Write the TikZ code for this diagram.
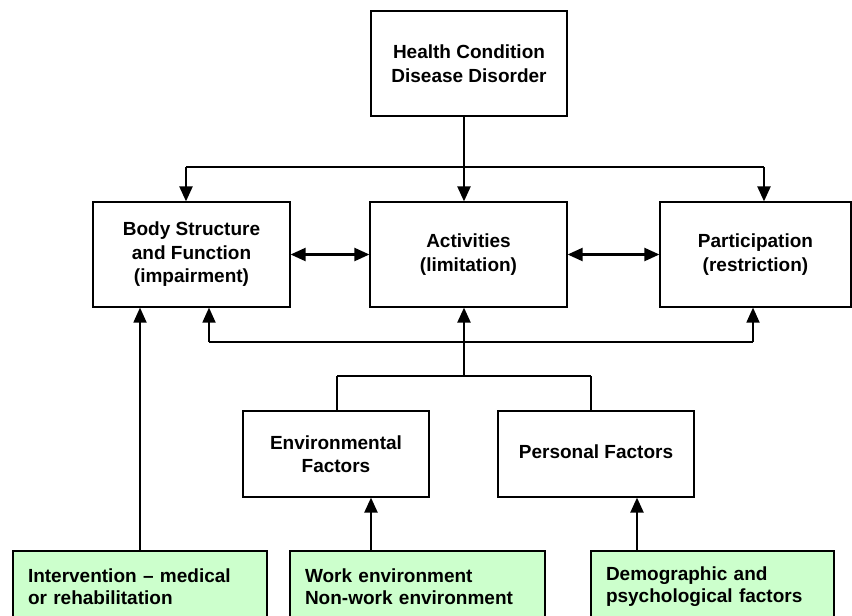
\documentclass[tikz,border=0pt]{standalone}
\usepackage{fontspec}
\setmainfont{Liberation Sans}
\usetikzlibrary{arrows.meta}
\begin{document}
\begin{tikzpicture}[x=1pt,y=-1pt,
  box/.style={draw=black, line width=1.2pt, fill=white, font=\bfseries\fontsize{19}{23.5}\selectfont, align=center, inner sep=0pt},
  gbox/.style={draw=black, line width=1.2pt, fill=green!20, font=\bfseries\fontsize{19}{22}\selectfont, align=left, inner xsep=15pt, inner ysep=0pt, minimum height=72pt},
  tip/.tip={Triangle[length=15pt,width=13pt]},
  arr/.style={line width=2.2pt, -tip},
  darr/.style={line width=2.2pt, tip-tip},
  thinline/.style={line width=1.2pt},
  midline/.style={line width=1.8pt}]
\useasboundingbox (0,0) rectangle (852,616);
\clip (0,0) rectangle (852,616);

% boxes
\node[box, minimum width=196pt, minimum height=105pt] (hc) at (469,63.5) {Health Condition\\Disease Disorder};
\node[box, minimum width=197pt, minimum height=105pt] (body) at (191.5,254.5) {Body Structure\\and Function\\(impairment)};
\node[box, minimum width=197pt, minimum height=105pt] (act) at (468.5,254.5) {Activities\\(limitation)};
\node[box, minimum width=191pt, minimum height=105pt] (part) at (755.5,254.5) {Participation\\(restriction)};
\node[box, minimum width=186pt, minimum height=86pt] (env) at (336,454) {Environmental\\Factors};
\node[box, minimum width=196pt, minimum height=86pt] (pers) at (596,454) {\raisebox{4pt}{Personal Factors}};

\node[gbox, text width=224pt] (g1) at (140,587) {Intervention -- medical\\or rehabilitation};
\node[gbox, text width=225pt] (g2) at (417.5,587) {Work environment\\Non-work environment};
\node[gbox, text width=213pt] (g3) at (712.5,587) {Demographic and\\psychological factors};

% coordinates for connector routing
\coordinate (vx) at (464,0);
\coordinate (tl) at (186,167);
\coordinate (tr) at (764,167);
\coordinate (bl) at (209,342);
\coordinate (br) at (753,342);
\coordinate (fj) at (464,376);
\coordinate (fl) at (337,376);
\coordinate (fr) at (591,376);
\coordinate (x1) at (140,0);
\coordinate (x2) at (371,0);
\coordinate (x3) at (637,0);

% top
\draw[arr] (hc.south -| vx) -- (act.north -| vx);
\draw[thinline] (tl) -- (tr);
\draw[arr] (tl) -- (body.north -| tl);
\draw[arr] (tr) -- (part.north -| tr);

% horizontal double arrows
\draw[darr] (body.east) -- (act.west);
\draw[darr] (act.east) -- (part.west);

% feedback below
\draw[thinline] (bl) -- (br);
\draw[midline, -tip] (bl) -- (body.south -| bl);
\draw[midline, -tip] (br) -- (part.south -| br);
\draw[arr] (fj) -- (act.south -| fj);

% factors
\draw[thinline] (fl) -- (fr);
\draw[thinline] (fl) -- (env.north -| fl);
\draw[thinline] (fr) -- (pers.north -| fr);

% green to boxes
\draw[midline, -tip] (g1.north -| x1) -- (body.south -| x1);
\draw[arr] (g2.north -| x2) -- (env.south -| x2);
\draw[arr] (g3.north -| x3) -- (pers.south -| x3);
\end{tikzpicture}
\end{document}
